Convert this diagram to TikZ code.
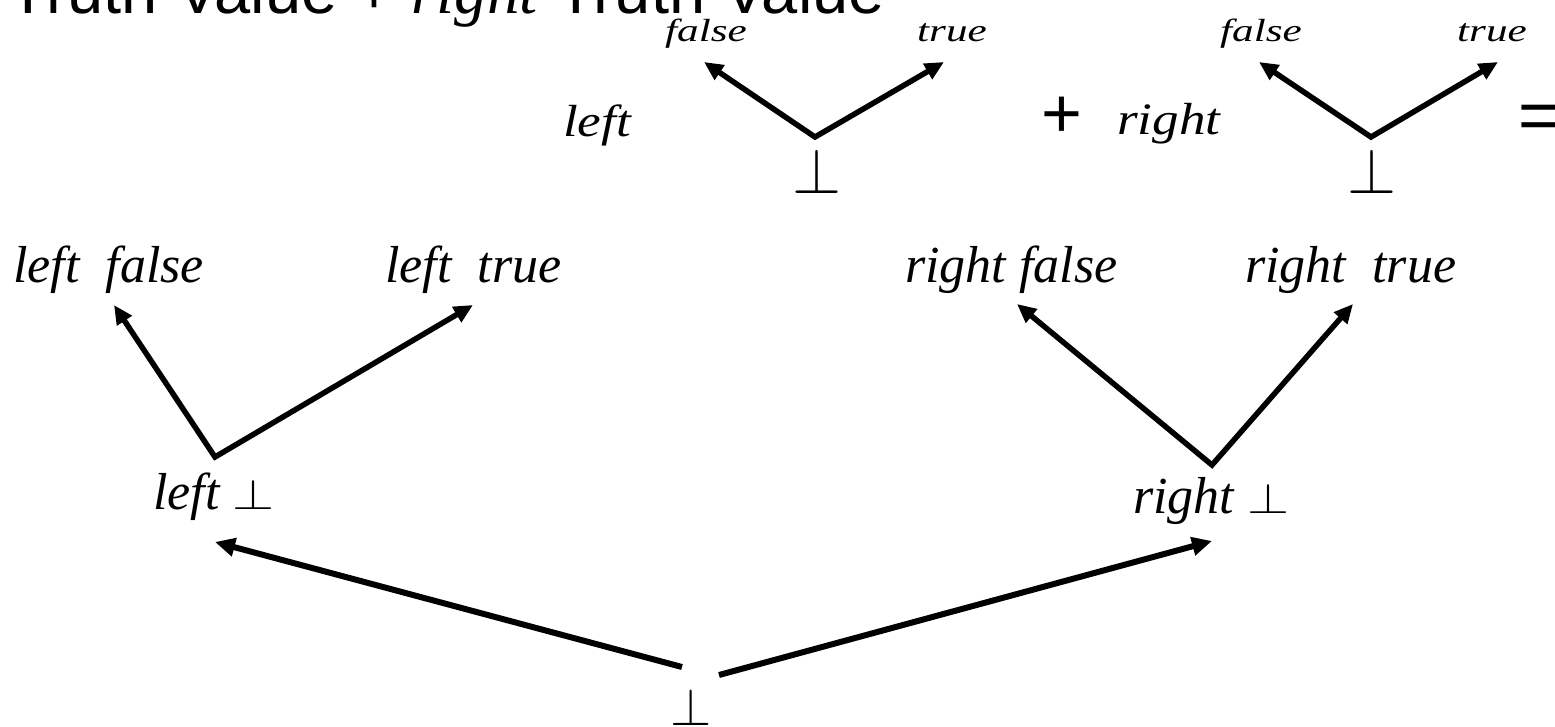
\documentclass[tikz,border=0pt]{standalone}
\usepackage{fontspec}
\setmainfont{Liberation Serif}
\newfontfamily\sansf{Liberation Sans}
\usetikzlibrary{arrows.meta}
\newcommand{\pp}[2]{\scalebox{#1}[#2]{\fontsize{10}{12}\selectfont$\perp$}}
\begin{document}
\begin{tikzpicture}[x=1pt,y=-1pt,
  lab/.style={inner sep=0pt, font=\fontsize{52}{60}\selectfont\itshape},
  toplab/.style={inner sep=0pt, font=\fontsize{32}{38}\selectfont\itshape},
  midlab/.style={inner sep=0pt, font=\fontsize{45}{52}\selectfont\itshape},
  sym/.style={inner sep=0pt, font=\sansf\fontsize{70}{80}\selectfont},
  arr/.style={line width=6pt, -{Triangle[length=20pt,width=18pt]}},
  arrs/.style={line width=5.5pt, {Triangle[length=19pt,width=17pt]}-{Triangle[length=19pt,width=17pt]}},
]
\useasboundingbox (0,0) rectangle (1555,726);

% title
\node[anchor=base east, inner sep=0pt, font=\sansf\fontsize{65}{75}\selectfont] (title) at (885,13)
  {Truth Value + {\rmfamily\itshape right} Truth Value};

% top equation
\node[toplab, anchor=base west] (f1) at (665,41) {\scalebox{1.35}[1]{false}};
\node[toplab, anchor=base west] (t1) at (917,41) {\scalebox{1.35}[1]{true}};
\node[toplab, anchor=base west] (f2) at (1220,41) {\scalebox{1.35}[1]{false}};
\node[toplab, anchor=base west] (t2) at (1457,41) {\scalebox{1.35}[1]{true}};
\node[midlab, anchor=base west] (lw) at (563,136) {\scalebox{1.18}[1]{left}};
\node[midlab, anchor=base west] (rw) at (1117,134) {\scalebox{1.18}[1]{right}};
\node[sym] (plus) at (1062,117) {+};
\node[sym, anchor=west] (eq) at (1518,122) {=};
\node[inner sep=0pt, anchor=south] (b1) at (817,194) {\pp{6.3}{6.45}};
\node[inner sep=0pt, anchor=south] (b2) at (1372,194) {\pp{6.3}{6.45}};

\coordinate (v1) at (815,137);
\coordinate (v1l) at (704,62);
\coordinate (v1r) at (944,62);
\coordinate (v2) at (1371,137);
\coordinate (v2l) at (1259,62);
\coordinate (v2r) at (1498,62);
\draw[arrs] (v1l) -- (v1) -- (v1r);
\draw[arrs] (v2l) -- (v2) -- (v2r);

% lower diagram
\node[lab, anchor=base west] (lf) at (13,282) {left~~false};
\node[lab, anchor=base west] (lt) at (385,282) {left~~true};
\node[lab, anchor=base west] (rf) at (905,282) {right false};
\node[lab, anchor=base west] (rt) at (1245,282) {right~~true};
\node[lab, anchor=base west] (lb) at (153,509) {left \pp{5.4}{4.3}};
\node[lab, anchor=base west] (rb) at (1133,513) {right \pp{5.4}{4.3}};
\node[inner sep=0pt, anchor=south] (bot) at (691,726) {\pp{5.3}{5.3}};

\coordinate (v3) at (215,457);
\coordinate (v3l) at (114,305);
\coordinate (v3r) at (473,305);
\coordinate (v4) at (1212,465);
\coordinate (v4l) at (1017,304);
\coordinate (v4r) at (1353,304);
\draw[arrs] (v3l) -- (v3) -- (v3r);
\draw[arrs] (v4l) -- (v4) -- (v4r);

\coordinate (bl) at (682,667);
\coordinate (br) at (719,675);
\coordinate (blt) at (215,542);
\coordinate (brt) at (1212,541);
\draw[arr] (bl) -- (blt);
\draw[arr] (br) -- (brt);
\end{tikzpicture}
\end{document}
